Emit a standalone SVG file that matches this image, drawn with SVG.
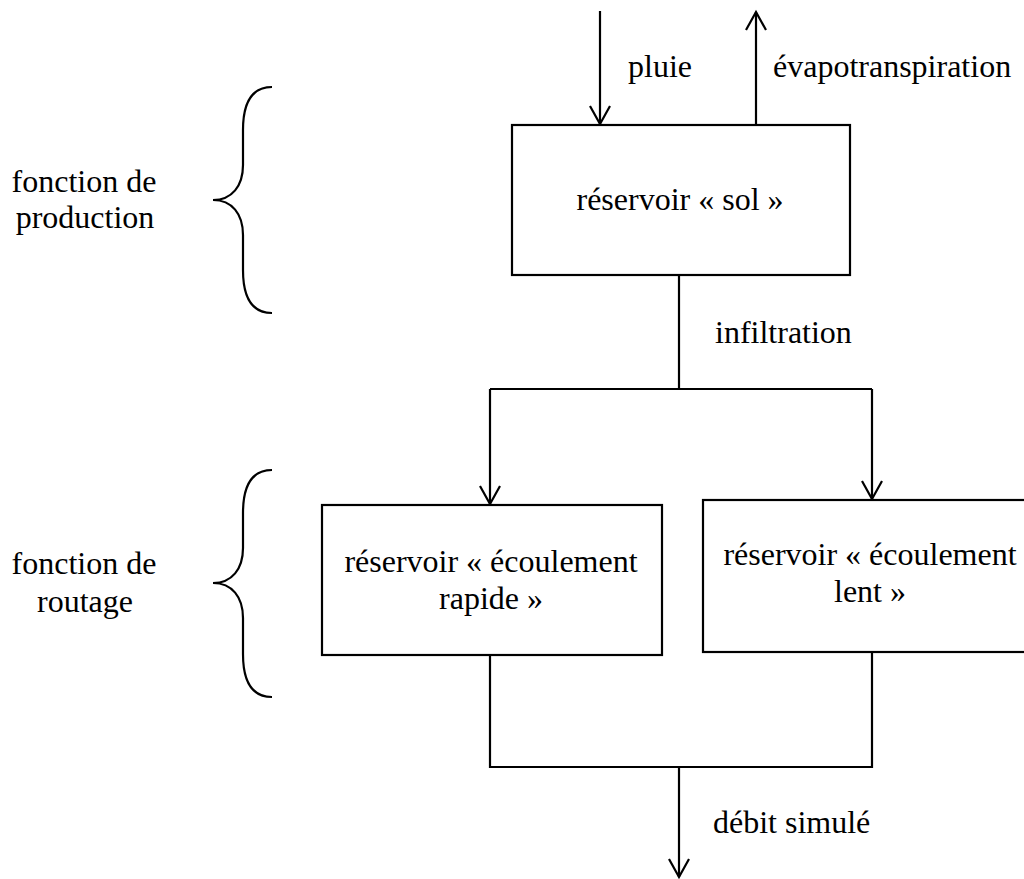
<svg xmlns="http://www.w3.org/2000/svg" width="1024" height="879" viewBox="0 0 1024 879">
<defs>
<style>
text{font-family:"Liberation Serif","Times New Roman",serif;font-size:32px;fill:#000}
.box{fill:#fff;stroke:#000;stroke-width:2.2}
.ln{fill:none;stroke:#000;stroke-width:2.2}
.mid{text-anchor:middle}
</style>
<marker id="arr" viewBox="0 0 24 24" refX="20" refY="12" markerWidth="24" markerHeight="24" markerUnits="userSpaceOnUse" orient="auto">
<path d="M2,2 L20,12 L2,22" fill="none" stroke="#000" stroke-width="2.2"/>
</marker>
</defs>
<rect width="1024" height="879" fill="#fff"/>
<g id="connectors">
<line class="ln" x1="600" y1="11" x2="600" y2="124" marker-end="url(#arr)"/>
<line class="ln" x1="756" y1="125" x2="756" y2="12" marker-end="url(#arr)"/>
<polyline class="ln" points="679,275 679,389"/>
<polyline class="ln" points="490,389 872,389"/>
<line class="ln" x1="490" y1="389" x2="490" y2="504" marker-end="url(#arr)"/>
<line class="ln" x1="872" y1="389" x2="872" y2="499" marker-end="url(#arr)"/>
<polyline class="ln" points="490,655 490,767 872,767 872,652"/>
<line class="ln" x1="679" y1="767" x2="679" y2="877" marker-end="url(#arr)"/>
<text x="628" y="77">pluie</text>
<text x="773" y="77">évapotranspiration</text>
<text x="715" y="343">infiltration</text>
<text x="713" y="833">débit simulé</text>
</g>
<g id="sol">
<rect class="box" x="512" y="125" width="338" height="150"/>
<text class="mid" x="680" y="210">réservoir « sol »</text>
</g>
<g id="rapide">
<rect class="box" x="322" y="505" width="340" height="150"/>
<text class="mid" x="491" y="572">réservoir « écoulement</text>
<text class="mid" x="491" y="609">rapide »</text>
</g>
<g id="lent">
<rect class="box" x="703" y="500" width="340" height="152"/>
<text class="mid" x="870" y="565">réservoir « écoulement</text>
<text class="mid" x="870" y="602">lent »</text>
</g>
<g id="production">
<path class="ln" d="M272,87 C252,87 243,102 243,130 L243,165 C243,186 232,200 213,200 C232,200 243,214 243,235 L243,270 C243,298 252,313 272,313"/>
<text class="mid" x="84" y="192">fonction de</text>
<text class="mid" x="85" y="228">production</text>
</g>
<g id="routage">
<path class="ln" d="M272,470 C252,470 243,485 243,513 L243,548 C243,569 232,583 213,583 C232,583 243,597 243,618 L243,654 C243,682 252,697 272,697"/>
<text class="mid" x="84" y="574">fonction de</text>
<text class="mid" x="85" y="612">routage</text>
</g>
</svg>
